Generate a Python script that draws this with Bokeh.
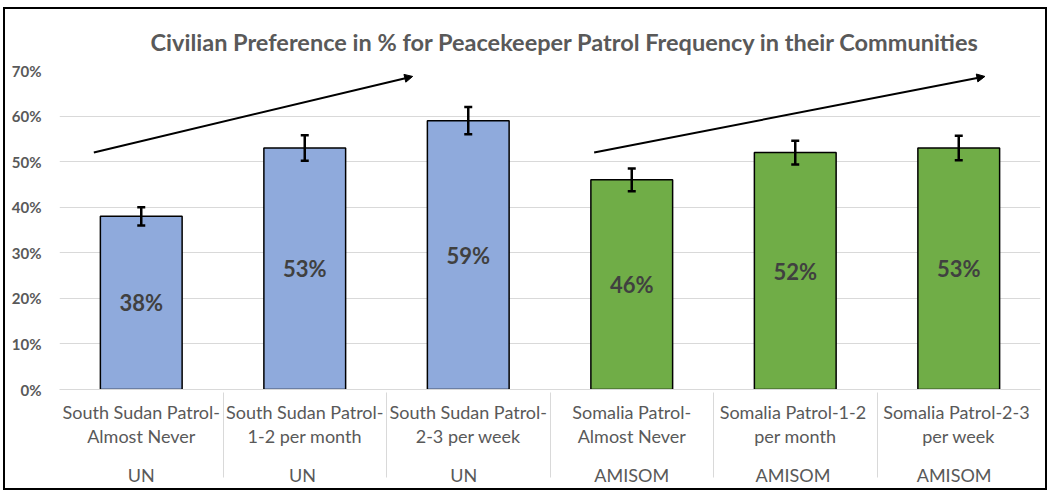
from bokeh.plotting import figure
from bokeh.models import (FactorRange, ColumnDataSource, Whisker, TeeHead, Arrow,
                          NormalHead, FixedTicker, PrintfTickFormatter, LabelSet)
from bokeh.core.properties import value
from bokeh.embed import file_html
from bokeh.resources import INLINE

# ---- data ----
groups = ["UN", "UN", "UN", "AMISOM", "AMISOM", "AMISOM"]
patrols = ["South Sudan Patrol-\nAlmost Never",
           "South Sudan Patrol-\n1-2 per month",
           "South Sudan Patrol-\n2-3 per week",
           "Somalia Patrol-\nAlmost Never",
           "Somalia  Patrol-1-2\nper month",
           "Somalia  Patrol-2-3\nper week"]
values = [38, 53, 59, 46, 52, 53]
errors = [2.0, 2.8, 3.0, 2.5, 2.6, 2.7]
bar_colors = ["#8faadc", "#8faadc", "#8faadc", "#70ad47", "#70ad47", "#70ad47"]
y_ticks = [0, 10, 20, 30, 40, 50, 60, 70]
# trend arrows (x in category units, y in %)
arrow_x_start = [0.21, 3.27]
arrow_y_start = [52.0, 52.0]
arrow_x_end = [2.16, 5.66]
arrow_y_end = [68.7, 68.7]

title_text = "Civilian Preference in % for Peacekeeper Patrol Frequency in their Communities"

# each bar gets its own group label (as in the original), keep keys unique;
# a blank middle level gives the gap between the two label rows
seen = {}
keys = []
for g in groups:
    n = seen.get(g, 0)
    seen[g] = n + 1
    keys.append(g + " " * n)
factors = [(k, " ", pt) for k, pt in zip(keys, patrols)]

FONT = "Lato"
GRAY = "#595959"

src = ColumnDataSource(dict(
    x=factors, top=values, color=bar_colors,
    upper=[v + e for v, e in zip(values, errors)],
    lower=[v - e for v, e in zip(values, errors)],
    mid=[v / 2 for v in values],
    lab=[f"{v}%" for v in values],
))

p = figure(x_range=FactorRange(*factors, range_padding=0, group_padding=0,
                               subgroup_padding=0, factor_padding=0),
           y_range=(0, 70), width=1044, height=483,
           output_backend="svg", toolbar_location=None,
           min_border_left=54, min_border_right=9, min_border_top=61,
           min_border_bottom=103)
p.styles = {"border": "2px solid #000000", "margin-left": "3px", "margin-top": "7px"}

p.title.text = title_text
p.title.text_font = FONT
p.title.text_font_size = "23.5px"
p.title.text_font_style = "bold"
p.title.text_color = GRAY
p.title.align = "left"
p.title.offset = 91
p.title.standoff = 30

p.outline_line_color = None
p.xgrid.grid_line_color = None
p.ygrid.grid_line_color = "#d9d9d9"
p.ygrid.grid_line_width = 1

p.yaxis.ticker = FixedTicker(ticks=y_ticks)
p.yaxis.formatter = PrintfTickFormatter(format="%d%%")
p.yaxis.axis_line_color = None
p.yaxis.major_tick_line_color = None
p.yaxis.minor_tick_line_color = None
p.yaxis.major_label_standoff = 12
p.yaxis.major_label_text_font = FONT
p.yaxis.major_label_text_font_size = "15px"
p.yaxis.major_label_text_font_style = "bold"
p.yaxis.major_label_text_color = GRAY

p.xaxis.axis_line_color = "#d9d9d9"
p.xaxis.major_tick_line_color = None
p.xaxis.major_label_standoff = 5
p.xaxis.major_label_text_font = FONT
p.xaxis.major_label_text_font_size = "18px"
p.xaxis.major_label_text_color = GRAY
p.xaxis.major_label_text_line_height = 1.12
p.xaxis.subgroup_text_font = FONT
p.xaxis.subgroup_text_font_size = "1px"
p.xaxis.subgroup_text_color = GRAY
p.xaxis.subgroup_text_font_style = "normal"
p.xaxis.group_text_font = FONT
p.xaxis.group_text_font_size = "18px"
p.xaxis.group_text_color = GRAY
p.xaxis.group_text_font_style = "normal"
p.xaxis.separator_line_color = "#d9d9d9"
p.xaxis.separator_line_width = 1

p.vbar(x="x", top="top", width=0.5, source=src, fill_color="color",
       line_color="#000000", line_width=1.5)

p.add_layout(Whisker(source=src, base="x", upper="upper", lower="lower",
                     level="overlay",
                     line_color="#000000", line_width=2.5,
                     upper_head=TeeHead(size=8, line_width=2.5, line_color="#000000"),
                     lower_head=TeeHead(size=8, line_width=2.5, line_color="#000000")))

p.add_layout(LabelSet(x="x", y="mid", text="lab", source=src,
                      text_align="center", text_baseline="middle",
                      text_font=value(FONT), text_font_size="22px",
                      text_font_style="bold", text_color="#404040"))

for xs, ys, xe, ye in zip(arrow_x_start, arrow_y_start, arrow_x_end, arrow_y_end):
    p.add_layout(Arrow(x_start=xs, y_start=ys, x_end=xe, y_end=ye,
                       line_color="#000000", line_width=2,
                       end=NormalHead(size=8, fill_color="#000000",
                                      line_color="#000000")))

open("out.html", "w").write(file_html(p, INLINE))
